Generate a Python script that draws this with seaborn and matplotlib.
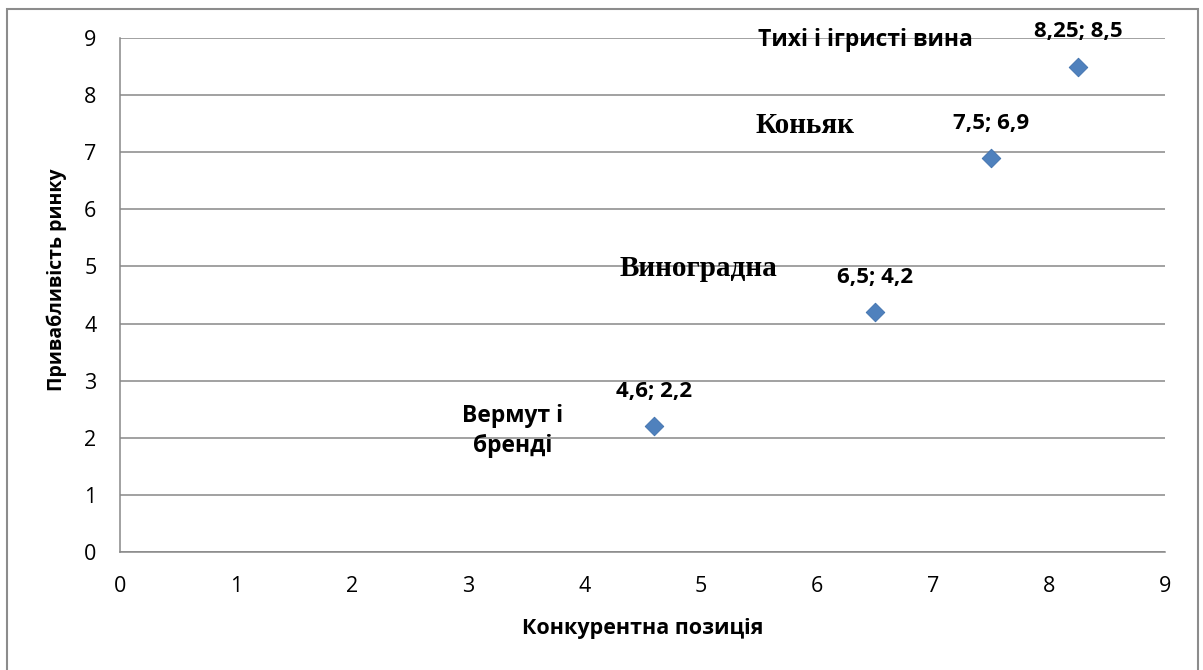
import seaborn as sns
import matplotlib.pyplot as plt
import pandas as pd
from matplotlib.patches import Rectangle

# data
competitive_position = [4.6, 6.5, 7.5, 8.25]
market_attractiveness = [2.2, 4.2, 6.9, 8.5]
point_labels = ['4,6; 2,2', '6,5; 4,2', '7,5; 6,9', '8,25; 8,5']

# category names and where they sit (data coords)
category_names = ['Вермут і\nбренді', 'Виноградна', 'Коньяк', 'Тихі і ігристі вина']
category_x = [3.38, 4.98, 5.9, 6.42]
category_y = [2.12, 4.97, 7.46, 8.97]
category_serif = [False, True, True, False]

ticks = list(range(10))

df = pd.DataFrame({'x': competitive_position, 'y': market_attractiveness})

sns.set_theme(style='white')
plt.rcParams['font.family'] = ['Open Sans', 'DejaVu Sans']
plt.rcParams['text.color'] = 'black'
plt.rcParams['axes.labelcolor'] = 'black'

fig = plt.figure(figsize=(12.03, 6.70), dpi=100)
ax = fig.add_axes([120 / 1203, 118 / 670, 1045 / 1203, 514 / 670])

grid_col = '#888888'
sns.scatterplot(data=df, x='x', y='y', marker='D', s=90, color='#4F81BD',
                edgecolor='#3F71AD', linewidth=0.6, ax=ax, zorder=3)

ax.set_xlim(0, 9)
ax.set_ylim(0, 9)
ax.set_xticks(ticks)
ax.set_yticks(ticks)
ax.yaxis.grid(True, color=grid_col, linewidth=1.1)
ax.xaxis.grid(False)
for side in ['top', 'right']:
    ax.spines[side].set_visible(False)
for side in ['left', 'bottom']:
    ax.spines[side].set_color(grid_col)
    ax.spines[side].set_linewidth(1.1)
ax.tick_params(axis='both', which='both', direction='out', length=6, width=1.1,
               color=grid_col, labelsize=15.5, labelcolor='black')
ax.tick_params(axis='x', pad=11)
ax.tick_params(axis='y', pad=11)

ax.set_xlabel('Конкурентна позиція', fontsize=15.5, fontweight='bold')
ax.set_ylabel('Привабливість ринку', fontsize=14, fontweight='bold')
ax.xaxis.set_label_coords(0.5005, -0.148)
ax.yaxis.set_label_coords(-0.061, 0.529)
ax.xaxis.label.set_va('center')
ax.yaxis.label.set_va('center')

for px, py, lab in zip(competitive_position, market_attractiveness, point_labels):
    ax.annotate(lab, (px, py), xytext=(0, 25), textcoords='offset points',
                ha='center', va='center', fontsize=16, fontweight='bold')

for cx, cy, name, serif in zip(category_x, category_y, category_names, category_serif):
    fam = ['Liberation Serif'] if serif else ['Open Sans', 'DejaVu Sans']
    ax.text(cx, cy, name, ha='center', va='center', fontsize=21 if serif else 16.5,
            fontweight='bold', family=fam, linespacing=1.3, zorder=4)

# outer chart border
fig.patches.append(Rectangle((7 / 1203, -0.01), 1191 / 1203, 1 - 9 / 670 + 0.01,
                             transform=fig.transFigure, fill=False,
                             edgecolor='#8c8c8c', linewidth=1.5))

fig.savefig('out.png', dpi=100)
